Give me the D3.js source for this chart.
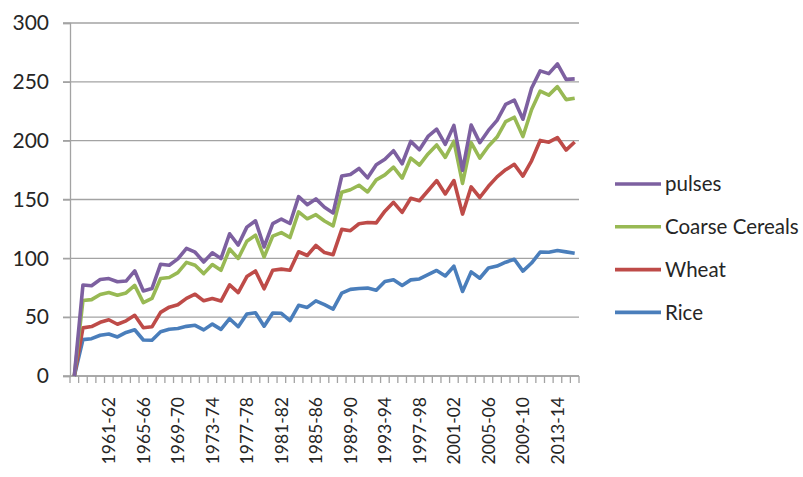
<!DOCTYPE html>
<html>
<head>
  <meta charset="UTF-8">
  <title>Foodgrain production</title>
  <style>
    body { margin: 0; background: #fff; }
    svg { display: block; font-family: Lato, "Open Sans", sans-serif; }
    .grid line { stroke: #a3a3a3; stroke-width: 1.3; }
    .axis path, .axis line { stroke: #a3a3a3; stroke-width: 1.3; }
    .axis text { fill: #262626; }
  </style>
</head>
<body>
<svg id="chart" width="803" height="477"></svg>

<script src="https://d3js.org/d3.v7.min.js"></script>
<script>
  // categories (first one is blank, its values are 0)
  var years = ["", "1958-59", "1959-60", "1960-61", "1961-62", "1962-63", "1963-64", "1964-65",
    "1965-66", "1966-67", "1967-68", "1968-69", "1969-70", "1970-71", "1971-72", "1972-73",
    "1973-74", "1974-75", "1975-76", "1976-77", "1977-78", "1978-79", "1979-80", "1980-81",
    "1981-82", "1982-83", "1983-84", "1984-85", "1985-86", "1986-87", "1987-88", "1988-89",
    "1989-90", "1990-91", "1991-92", "1992-93", "1993-94", "1994-95", "1995-96", "1996-97",
    "1997-98", "1998-99", "1999-00", "2000-01", "2001-02", "2002-03", "2003-04", "2004-05",
    "2005-06", "2006-07", "2007-08", "2008-09", "2009-10", "2010-11", "2011-12", "2012-13",
    "2013-14", "2014-15", "2015-16"];

  var rice = [0, 30.9, 31.7, 34.6, 35.7, 33.2, 37.0, 39.3, 30.6, 30.4, 37.6, 39.8, 40.4, 42.2,
    43.1, 39.2, 44.1, 39.6, 48.7, 41.9, 52.7, 53.8, 42.3, 53.6, 53.3, 47.1, 60.1, 58.3, 63.8,
    60.6, 56.9, 70.5, 73.6, 74.3, 74.7, 72.9, 80.3, 81.8, 77.0, 81.7, 82.5, 86.1, 89.7, 85.0,
    93.3, 71.8, 88.5, 83.1, 91.8, 93.4, 96.7, 99.2, 89.1, 96.0, 105.3, 105.2, 106.7, 105.5, 104.4];

  var wheat = [0, 10.0, 10.3, 11.0, 12.1, 10.8, 9.9, 12.3, 10.4, 11.4, 16.5, 18.7, 20.1, 23.8,
    26.4, 24.7, 21.8, 24.1, 28.8, 29.0, 31.8, 35.5, 31.8, 36.3, 37.5, 42.8, 45.5, 44.1, 47.1,
    44.3, 46.2, 54.1, 49.9, 55.1, 55.7, 57.2, 59.8, 65.8, 62.1, 69.4, 66.4, 71.3, 76.4, 69.7,
    72.8, 65.8, 72.2, 68.6, 69.4, 75.8, 78.6, 80.7, 80.8, 86.9, 94.9, 93.5, 95.9, 86.5, 94.5];

  var coarse = [0, 23.2, 22.9, 23.7, 23.2, 24.6, 23.7, 25.4, 21.4, 24.1, 28.8, 25.2, 27.3, 30.6,
    24.6, 23.1, 28.8, 26.1, 30.4, 29.0, 30.0, 30.4, 27.0, 29.0, 31.1, 27.8, 33.9, 31.2, 26.2,
    26.8, 24.5, 31.5, 34.8, 32.7, 26.0, 36.6, 30.8, 29.9, 29.0, 34.1, 30.4, 31.3, 30.3, 31.1,
    33.4, 26.1, 37.6, 33.5, 34.1, 33.9, 40.8, 40.0, 33.6, 43.4, 42.0, 40.0, 43.3, 42.9, 37.2];

  var pulses = [0, 13.2, 11.8, 12.7, 11.8, 11.5, 10.1, 12.4, 9.9, 8.4, 12.1, 10.4, 11.7, 11.8,
    11.1, 9.9, 10.0, 10.0, 13.0, 11.4, 12.0, 12.2, 8.6, 10.6, 11.5, 11.9, 12.9, 12.0, 13.4,
    11.7, 11.0, 13.9, 12.9, 14.3, 12.0, 12.8, 13.3, 14.0, 12.3, 14.2, 13.0, 14.9, 13.4, 11.1,
    13.4, 11.1, 14.9, 13.1, 13.4, 14.2, 14.8, 14.6, 14.7, 18.2, 17.1, 18.3, 19.3, 17.2, 16.4];

  var seriesKeys = ["rice", "wheat", "coarse", "pulses"];
  var seriesNames = ["Rice", "Wheat", "Coarse Cereals", "pulses"];
  var seriesColors = ["#4a7ebb", "#be4b48", "#98b954", "#7d60a0"];
  var yTicks = [0, 50, 100, 150, 200, 250, 300];

  var svg = d3.select("#chart");
  svg.append("rect").attr("width", 803).attr("height", 477).attr("fill", "#fff");

  var plotLeft = 70, plotRight = 579, plotTop = 23, plotBottom = 376;

  // build table rows for d3.stack
  var rows = years.map(function(y, i) {
    return { year: y, rice: rice[i], wheat: wheat[i], coarse: coarse[i], pulses: pulses[i] };
  });
  var stacked = d3.stack().keys(seriesKeys)(rows);

  var xScale = d3.scaleBand()
    .domain(years.map(function(d, i) { return i; }))
    .range([plotLeft, plotRight])
    .padding(0);

  var yScale = d3.scaleLinear()
    .domain([0, 300])
    .range([plotBottom, plotTop]);

  // horizontal gridlines (they stick out left as tick marks)
  svg.append("g").attr("class", "grid")
    .selectAll("line")
    .data(yTicks)
    .join("line")
    .attr("x1", plotLeft - 7)
    .attr("x2", plotRight)
    .attr("y1", d => yScale(d))
    .attr("y2", d => yScale(d));

  // y axis
  var yAxis = svg.append("g").attr("class", "axis")
    .attr("transform", "translate(" + plotLeft + ",0)")
    .call(d3.axisLeft(yScale).tickValues(yTicks).tickSize(7).tickPadding(14));
  yAxis.selectAll("text").style("font-size", "21px").style("font-family", "Lato, sans-serif");

  // x axis: tick marks at category boundaries
  var xAxis = svg.append("g").attr("class", "axis");
  xAxis.append("line")
    .attr("x1", plotLeft).attr("x2", plotRight)
    .attr("y1", plotBottom).attr("y2", plotBottom);
  xAxis.selectAll(".xt")
    .data(d3.range(years.length + 1))
    .join("line")
    .attr("class", "xt")
    .attr("x1", d => plotLeft + d * xScale.bandwidth())
    .attr("x2", d => plotLeft + d * xScale.bandwidth())
    .attr("y1", plotBottom)
    .attr("y2", plotBottom + 7);

  // every 4th label, rotated
  xAxis.selectAll("text")
    .data(years.map(function(y, i) { return { y: y, i: i }; }).filter(d => d.i % 4 === 0 && d.y !== ""))
    .join("text")
    .attr("transform", d => "translate(" + (xScale(d.i) + xScale.bandwidth() / 2) + "," + (plotBottom + 21) + ") rotate(-90)")
    .attr("text-anchor", "end")
    .attr("dy", "0.36em")
    .style("font-size", "17.5px")
    .text(d => d.y);

  // stacked lines
  var line = d3.line()
    .x((d, i) => xScale(i) + xScale.bandwidth() / 2)
    .y(d => yScale(d[1]))
    .curve(d3.curveLinear);

  svg.append("g")
    .selectAll("path")
    .data(stacked)
    .join("path")
    .attr("fill", "none")
    .attr("stroke", (d, i) => seriesColors[i])
    .attr("stroke-width", 3.6)
    .attr("stroke-linejoin", "round")
    .attr("d", line);

  // legend (top to bottom: pulses, Coarse Cereals, Wheat, Rice)
  var legendOrder = [3, 2, 1, 0];
  var legend = svg.append("g")
    .selectAll("g")
    .data(legendOrder)
    .join("g")
    .attr("transform", (d, i) => "translate(615," + (184 + i * 42.8) + ")");
  legend.append("line")
    .attr("x1", 0).attr("x2", 46)
    .attr("stroke", d => seriesColors[d])
    .attr("stroke-width", 3.6);
  legend.append("text")
    .attr("x", 50)
    .attr("dy", "0.36em")
    .style("font-size", "20.5px")
    .attr("fill", "#262626")
    .text(d => seriesNames[d]);
</script>
</body>
</html>
